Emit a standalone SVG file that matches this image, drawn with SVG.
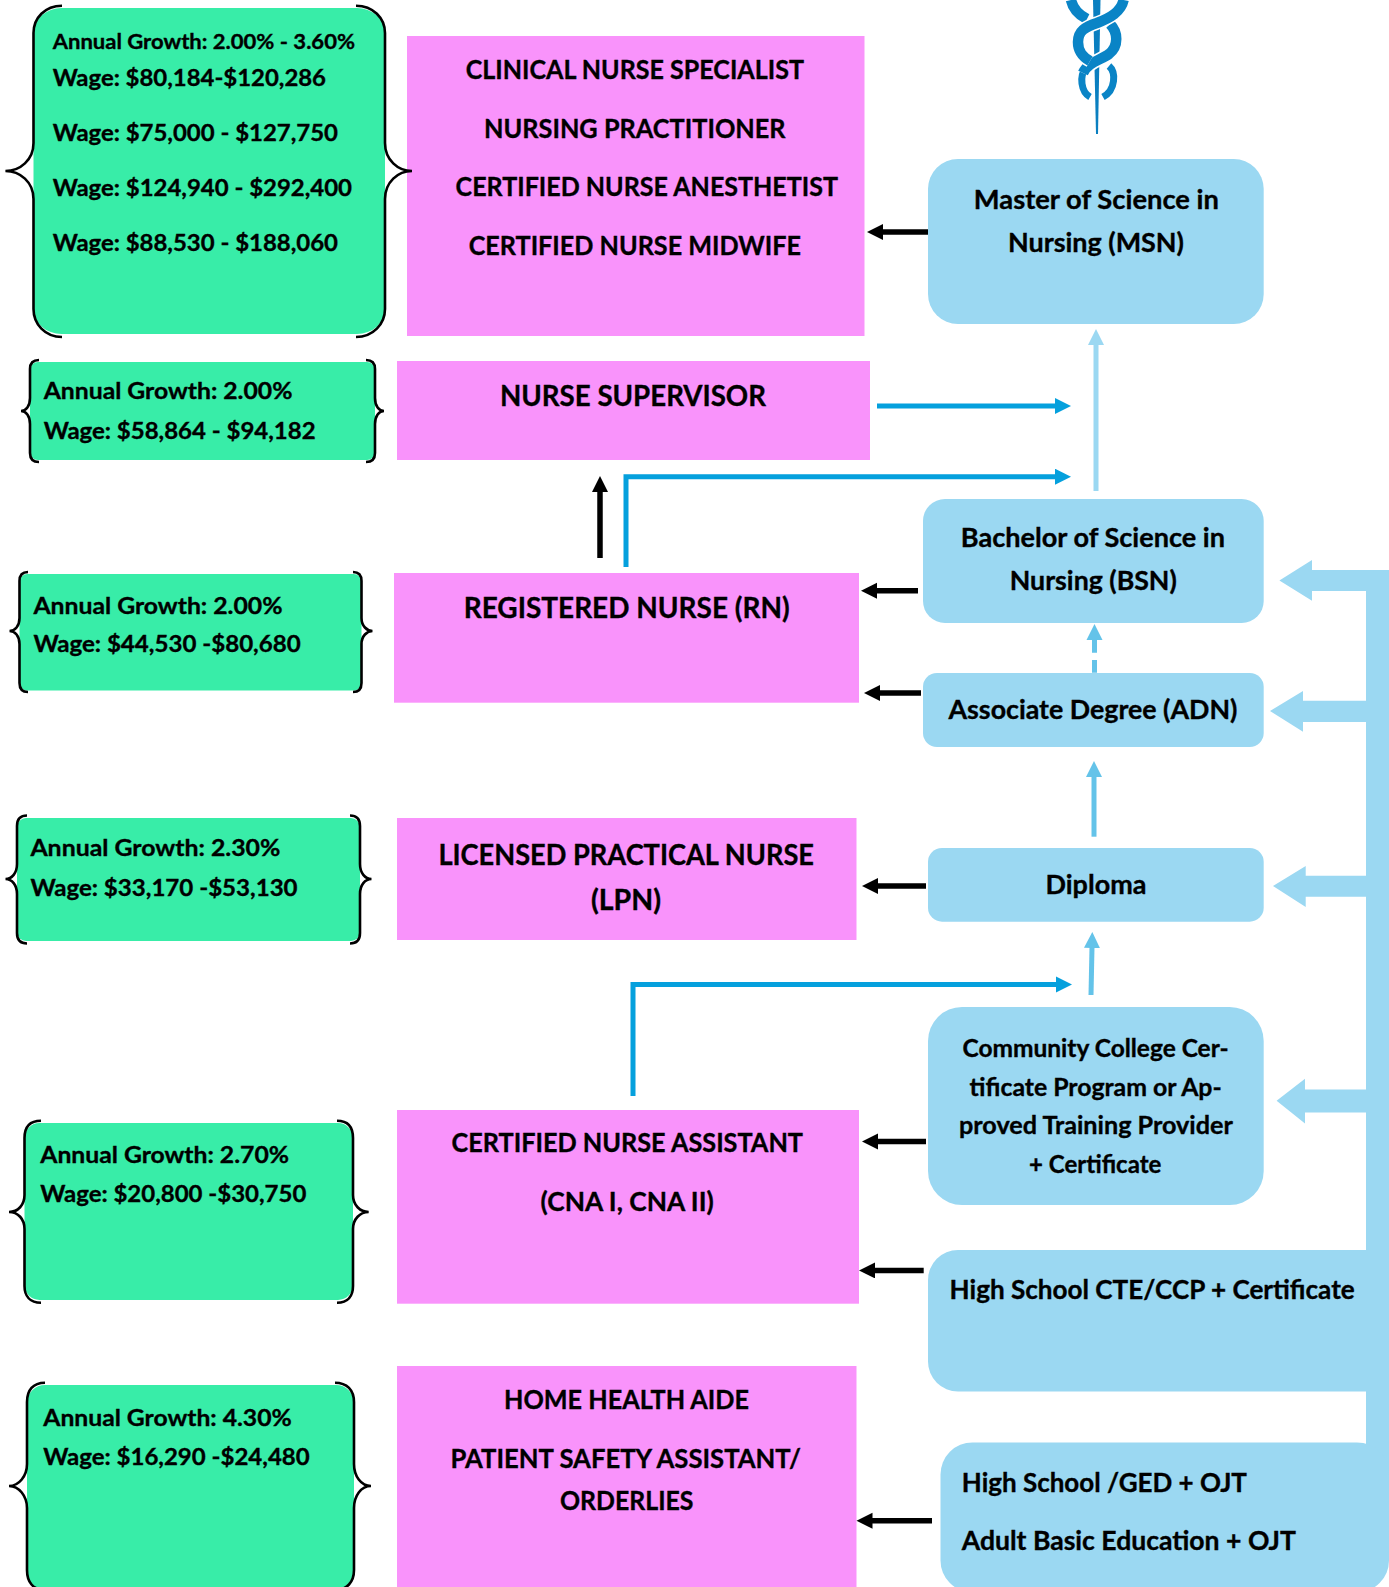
<svg xmlns="http://www.w3.org/2000/svg" width="1389" height="1587" viewBox="0 0 1389 1587">
<style>
text{font-family:"Lato","Open Sans","Liberation Sans",sans-serif;font-weight:700;fill:#000;stroke:#000;stroke-width:.35}
.g{fill:#38eda8}.p{fill:#f993fb}.b{fill:#9bd8f2}
.br{fill:none;stroke:#000;stroke-width:2.6}
.s21{font-size:21.5px}.s23{font-size:23.5px}.s24{font-size:24.5px}.s25{font-size:26px}.s26{font-size:26.5px}.s28{font-size:28.5px}
.k{stroke:#000;stroke-width:5.5;fill:none}
.c{stroke:#05a0dd;stroke-width:5;fill:none}
.l{stroke:#9bd8f2;stroke-width:5;fill:none}
.m{stroke:#64c3e9;stroke-width:5;fill:none}
.sn{fill:none;stroke:#0a84c6;stroke-width:10.5}
.sl{fill:none;stroke:#0a84c6;stroke-width:7}
.sh{fill:none;stroke:#fff;stroke-width:13.5}
</style>
<defs>
<marker id="ak" markerUnits="userSpaceOnUse" markerWidth="17" markerHeight="17" refX="1" refY="8" orient="auto"><path d="M0 0L16 8L0 16Z" fill="#000"/></marker>
<marker id="ac" markerUnits="userSpaceOnUse" markerWidth="17" markerHeight="17" refX="1" refY="8" orient="auto"><path d="M0 0L16 8L0 16Z" fill="#05a0dd"/></marker>
<marker id="al" markerUnits="userSpaceOnUse" markerWidth="17" markerHeight="17" refX="1" refY="8" orient="auto"><path d="M0 0L16 8L0 16Z" fill="#9bd8f2"/></marker>
<marker id="am" markerUnits="userSpaceOnUse" markerWidth="17" markerHeight="17" refX="1" refY="8" orient="auto"><path d="M0 0L16 8L0 16Z" fill="#64c3e9"/></marker>
</defs>

<g id="caduceus">
<path d="M1093 0H1100.5L1098 134H1096Z" fill="#0a7fc0"/>
<path class="sn" d="M1071 0C1073 9 1079 15 1087 19"/>
<path class="sl" d="M1109 66C1116 72 1116 90 1103 97"/>
<path class="sl" d="M1086 68C1079 76 1081 92 1090 97"/>
<path class="sh" d="M1110 24C1118 32 1119 46 1109 54C1101 60 1088 62 1083 73"/>
<path class="sn" d="M1110 24C1118 32 1119 46 1109 54C1101 60 1088 62 1083 73"/>
<path class="sh" d="M1123.6 0C1121 12 1110 18 1097 23C1085 27 1078 31 1078 42C1078 52 1083 57 1090 61"/>
<path class="sn" d="M1123.6 0C1121 12 1110 18 1097 23C1085 27 1078 31 1078 42C1078 52 1083 57 1090 61"/>
</g>

<g id="pink-advanced">
<rect class="p" x="407" y="36" width="457.5" height="300"/>
<text class="s26" x="465.7" y="78.7" textLength="338.3" lengthAdjust="spacingAndGlyphs">CLINICAL NURSE SPECIALIST</text>
<text class="s26" x="484" y="137.7" textLength="301.6" lengthAdjust="spacingAndGlyphs">NURSING PRACTITIONER</text>
<text class="s26" x="455.6" y="196" textLength="382.4" lengthAdjust="spacingAndGlyphs">CERTIFIED NURSE ANESTHETIST</text>
<text class="s26" x="468.7" y="255" textLength="332.3" lengthAdjust="spacingAndGlyphs">CERTIFIED NURSE MIDWIFE</text>
</g>
<g id="pink-supervisor">
<rect class="p" x="397" y="361" width="473" height="99"/>
<text class="s28" x="500" y="406" textLength="266" lengthAdjust="spacingAndGlyphs">NURSE SUPERVISOR</text>
</g>
<g id="pink-rn">
<rect class="p" x="394" y="573" width="465" height="129.7"/>
<text class="s28" x="463.7" y="618" textLength="326" lengthAdjust="spacingAndGlyphs">REGISTERED NURSE (RN)</text>
</g>
<g id="pink-lpn">
<rect class="p" x="397" y="818" width="459.5" height="122"/>
<text class="s28" x="438.4" y="864.6" textLength="375.6" lengthAdjust="spacingAndGlyphs">LICENSED PRACTICAL NURSE</text>
<text class="s28" x="591" y="910" textLength="70" lengthAdjust="spacingAndGlyphs">(LPN)</text>
</g>
<g id="pink-cna">
<rect class="p" x="397" y="1110" width="462" height="193.7"/>
<text class="s26" x="451.5" y="1152" textLength="351.5" lengthAdjust="spacingAndGlyphs">CERTIFIED NURSE ASSISTANT</text>
<text class="s26" x="540.6" y="1211" textLength="173.1" lengthAdjust="spacingAndGlyphs">(CNA I, CNA II)</text>
</g>
<g id="pink-hha">
<rect class="p" x="397" y="1366" width="459.5" height="221"/>
<text class="s26" x="504" y="1409" textLength="245" lengthAdjust="spacingAndGlyphs">HOME HEALTH AIDE</text>
<text class="s26" x="450.5" y="1468" textLength="350.5" lengthAdjust="spacingAndGlyphs">PATIENT SAFETY ASSISTANT/</text>
<text class="s26" x="560" y="1510" textLength="133.5" lengthAdjust="spacingAndGlyphs">ORDERLIES</text>
</g>

<g id="connectors">
<path class="b" d="M1389 570H1312V560L1279.4 580.5L1312 600.7V591H1366V700.7H1303V691L1270 711L1303 731.7V722H1366V875.7H1305.7V866L1273 886L1305.7 907V896.7H1366V1089.6H1305V1078.8L1276.6 1100.8L1305 1123.6V1112.4H1366V1520H1389Z"/>
<line class="k" x1="932" y1="232" x2="882" y2="232" marker-end="url(#ak)"/>
<line class="k" x1="918" y1="590.7" x2="876" y2="590.7" marker-end="url(#ak)"/>
<line class="k" x1="921" y1="693" x2="879" y2="693" marker-end="url(#ak)"/>
<line class="k" x1="926" y1="886" x2="877" y2="886" marker-end="url(#ak)"/>
<line class="k" x1="926" y1="1141.6" x2="877" y2="1141.6" marker-end="url(#ak)"/>
<line class="k" x1="923.7" y1="1270.4" x2="874" y2="1270.4" marker-end="url(#ak)"/>
<line class="k" x1="932" y1="1520.8" x2="871.5" y2="1520.8" marker-end="url(#ak)"/>
<line class="k" x1="600" y1="558" x2="600" y2="491" marker-end="url(#ak)"/>
<line class="l" x1="1096" y1="491" x2="1096" y2="344" marker-end="url(#al)"/>
<line class="c" x1="877" y1="406" x2="1056" y2="406" marker-end="url(#ac)"/>
<polyline class="c" points="626,567 626,476.7 1056,476.7" marker-end="url(#ac)"/>
<polyline class="c" points="633,1096 633,984.4 1057,984.4" marker-end="url(#ac)"/>
<path class="m" d="M1094.5 672.7V660M1094.5 652.7V640"/>
<path d="M1086.5 640L1094.5 624L1102.5 640Z" fill="#64c3e9"/>
<line class="m" x1="1094" y1="836.7" x2="1094" y2="776" marker-end="url(#am)"/>
<line class="m" x1="1091" y1="995" x2="1092" y2="947" marker-end="url(#am)"/>
</g>

<g id="green-1">
<rect class="g" x="33.5" y="8" width="351.5" height="326" rx="28" ry="25"/>
<path class="br" d="M62 5.7C45 5.7 33.5 18 33.5 33V143C33.5 160 20 171 5.4 171C20 171 33.5 182 33.5 199V309C33.5 324 45 337 62 337"/>
<path class="br" d="M356 5.7C373 5.7 385 18 385 33V143C385 160 398 171 412 171C398 171 385 182 385 199V309C385 324 373 337 356 337"/>
<text class="s21" x="52.7" y="49.3" textLength="302.3" lengthAdjust="spacingAndGlyphs">Annual Growth: 2.00% - 3.60%</text>
<text class="s23" x="52.7" y="86" textLength="273.3" lengthAdjust="spacingAndGlyphs">Wage: $80,184-$120,286</text>
<text class="s23" x="52.7" y="141" textLength="285.3" lengthAdjust="spacingAndGlyphs">Wage: $75,000 - $127,750</text>
<text class="s23" x="52.7" y="195.7" textLength="299.3" lengthAdjust="spacingAndGlyphs">Wage: $124,940 - $292,400</text>
<text class="s23" x="52.7" y="250.7" textLength="285.3" lengthAdjust="spacingAndGlyphs">Wage: $88,530 - $188,060</text>
</g>
<g id="green-2">
<rect class="g" x="30" y="362" width="345" height="98" rx="8"/>
<path class="br" d="M39 360C33 360 30 363 30 369V398C30 406 26 411 21 411C26 411 30 416 30 424V453C30 459 33 462 39 462"/>
<path class="br" d="M366 360C372 360 375 363 375 369V398C375 406 379 411 384 411C379 411 375 416 375 424V453C375 459 372 462 366 462"/>
<text class="s23" x="43.7" y="399.3" textLength="248.7" lengthAdjust="spacingAndGlyphs">Annual Growth: 2.00%</text>
<text class="s23" x="43.7" y="438.7" textLength="271.9" lengthAdjust="spacingAndGlyphs">Wage: $58,864 - $94,182</text>
</g>
<g id="green-3">
<rect class="g" x="19.5" y="574" width="342" height="116.5" rx="8"/>
<path class="br" d="M28 572C22 572 19.5 575 19.5 581V618C19.5 626 15 631 9.5 631C15 631 19.5 636 19.5 644V683C19.5 689 22 692 28 692"/>
<path class="br" d="M353 572C359 572 361.5 575 361.5 581V618C361.5 626 367 631 372.5 631C367 631 361.5 636 361.5 644V683C361.5 689 359 692 353 692"/>
<text class="s23" x="33.4" y="613.5" textLength="249.1" lengthAdjust="spacingAndGlyphs">Annual Growth: 2.00%</text>
<text class="s23" x="33.4" y="651.5" textLength="267.3" lengthAdjust="spacingAndGlyphs">Wage: $44,530 -$80,680</text>
</g>
<g id="green-4">
<rect class="g" x="17" y="818" width="343" height="123" rx="9"/>
<path class="br" d="M27 815.5C20 815.5 17 819 17 826V864C17 873 12 879 5.5 879C12 879 17 885 17 894V933C17 940 20 943.5 27 943.5"/>
<path class="br" d="M350 815.5C357 815.5 360 819 360 826V864C360 873 365 879 371.5 879C365 879 360 885 360 894V933C360 940 357 943.5 350 943.5"/>
<text class="s23" x="30.4" y="856" textLength="250" lengthAdjust="spacingAndGlyphs">Annual Growth: 2.30%</text>
<text class="s23" x="30.4" y="895.5" textLength="267.2" lengthAdjust="spacingAndGlyphs">Wage: $33,170 -$53,130</text>
</g>
<g id="green-5">
<rect class="g" x="24.5" y="1123" width="328.5" height="177" rx="15"/>
<path class="br" d="M41 1120.7C30 1120.7 24.5 1127 24.5 1138V1195C24.5 1205 18 1212 9 1212C18 1212 24.5 1219 24.5 1229V1286C24.5 1296 30 1302.7 41 1302.7"/>
<path class="br" d="M337 1120.7C348 1120.7 353 1127 353 1138V1195C353 1205 360 1212 368.7 1212C360 1212 353 1219 353 1229V1286C353 1296 348 1302.7 337 1302.7"/>
<text class="s23" x="40.3" y="1162.7" textLength="248.7" lengthAdjust="spacingAndGlyphs">Annual Growth: 2.70%</text>
<text class="s23" x="40.3" y="1201.7" textLength="266" lengthAdjust="spacingAndGlyphs">Wage: $20,800 -$30,750</text>
</g>
<g id="green-6">
<rect class="g" x="27" y="1385" width="327" height="205" rx="18"/>
<path class="br" d="M45 1382.7C33 1382.7 27 1390 27 1402V1464C27 1476 19 1486 9 1486C19 1486 27 1496 27 1508V1570C27 1582 33 1590 45 1590"/>
<path class="br" d="M335 1382.7C347 1382.7 354 1390 354 1402V1464C354 1476 361 1486 371 1486C361 1486 354 1496 354 1508V1570C354 1582 347 1590 335 1590"/>
<text class="s23" x="43.3" y="1425.7" textLength="248.4" lengthAdjust="spacingAndGlyphs">Annual Growth: 4.30%</text>
<text class="s23" x="43.3" y="1465" textLength="266.4" lengthAdjust="spacingAndGlyphs">Wage: $16,290 -$24,480</text>
</g>

<g id="blue-msn">
<rect class="b" x="928" y="159" width="335.7" height="165" rx="30"/>
<text class="s25" x="973.8" y="209" textLength="245.1" lengthAdjust="spacingAndGlyphs">Master of Science in</text>
<text class="s25" x="1008" y="251.7" textLength="176" lengthAdjust="spacingAndGlyphs">Nursing (MSN)</text>
</g>
<g id="blue-bsn">
<rect class="b" x="923" y="499" width="340.7" height="124" rx="22"/>
<text class="s25" x="960.8" y="547.3" textLength="264.2" lengthAdjust="spacingAndGlyphs">Bachelor of Science in</text>
<text class="s25" x="1009.8" y="590" textLength="167" lengthAdjust="spacingAndGlyphs">Nursing (BSN)</text>
</g>
<g id="blue-adn">
<rect class="b" x="923" y="673" width="340.7" height="74" rx="14"/>
<text class="s25" x="948.5" y="718.7" textLength="288.9" lengthAdjust="spacingAndGlyphs">Associate Degree (ADN)</text>
</g>
<g id="blue-diploma">
<rect class="b" x="928" y="848" width="335.7" height="73.7" rx="14"/>
<text class="s25" x="1045.5" y="893.7" textLength="100.9" lengthAdjust="spacingAndGlyphs">Diploma</text>
</g>
<g id="blue-cc">
<rect class="b" x="928" y="1007" width="335.7" height="198" rx="34"/>
<text class="s24" x="962.5" y="1056.8" textLength="266.2" lengthAdjust="spacingAndGlyphs">Community College Cer-</text>
<text class="s24" x="969.6" y="1095.5" textLength="252.1" lengthAdjust="spacingAndGlyphs">tificate Program or Ap-</text>
<text class="s24" x="959" y="1134" textLength="273.9" lengthAdjust="spacingAndGlyphs">proved Training Provider</text>
<text class="s24" x="1029" y="1172.5" textLength="132.4" lengthAdjust="spacingAndGlyphs">+ Certificate</text>
</g>
<g id="blue-cte">
<rect class="b" x="928" y="1250" width="500" height="141.6" rx="30"/>
<text class="s25" x="949.6" y="1299.2" textLength="405.1" lengthAdjust="spacingAndGlyphs">High School CTE/CCP + Certificate</text>
</g>
<g id="blue-hs">
<rect class="b" x="940.5" y="1442.4" width="448.5" height="150" rx="32"/>
<text class="s25" x="961.8" y="1492" textLength="285.1" lengthAdjust="spacingAndGlyphs">High School /GED + OJT</text>
<text class="s25" x="961.8" y="1550" textLength="334.1" lengthAdjust="spacingAndGlyphs">Adult Basic Education + OJT</text>
</g>
</svg>
